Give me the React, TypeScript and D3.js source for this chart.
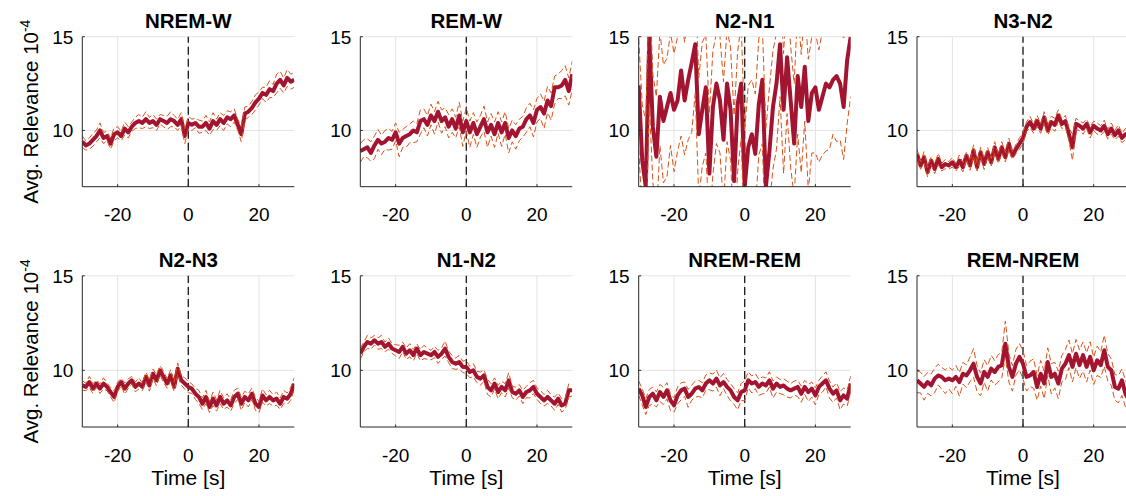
import React from 'react';
import * as d3 from 'd3';

// ---------- data ----------
const titles = ['NREM-W', 'REM-W', 'N2-N1', 'N3-N2', 'N2-N3', 'N1-N2', 'NREM-REM', 'REM-NREM'];
const timeSec = d3.range(-30, 31, 1);
const xTicks = [-20, 0, 20];
const yTicks = [10, 15];
const xDomain = [-30, 30];
const yDomain = [7, 15];

const nremWMean = [
  9.4, 9.2, 9.3, 9.5, 9.7, 10.0, 9.6, 9.7, 9.3, 9.8,
  9.9, 9.7, 10.1, 9.9, 10.2, 10.4, 10.5, 10.4, 10.6, 10.4,
  10.5, 10.3, 10.6, 10.5, 10.4, 10.6, 10.5, 10.3, 10.6, 9.7,
  10.4, 10.3, 10.4, 10.2, 10.2, 10.4, 10.1, 10.5, 10.3, 10.6,
  10.4, 10.7, 10.6, 10.8, 10.3, 9.8, 10.9, 11.0, 11.2, 11.5,
  11.7, 12.0, 11.9, 12.2, 12.1, 12.5, 12.7, 12.4, 12.8, 12.6,
  12.7,
];
const nremWHw = [
  0.3, 0.25, 0.3, 0.35, 0.3, 0.4, 0.3, 0.25, 0.3, 0.35,
  0.3, 0.25, 0.35, 0.3, 0.25, 0.3, 0.35, 0.3, 0.4, 0.3,
  0.35, 0.3, 0.25, 0.3, 0.35, 0.4, 0.3, 0.3, 0.35, 0.4,
  0.35, 0.3, 0.25, 0.35, 0.3, 0.4, 0.35, 0.45, 0.3, 0.35,
  0.4, 0.35, 0.4, 0.35, 0.3, 0.4, 0.35, 0.3, 0.35, 0.4,
  0.35, 0.3, 0.4, 0.45, 0.35, 0.5, 0.45, 0.4, 0.45, 0.4,
  0.4,
];

const remWMean = [
  8.9, 9.0, 9.1, 8.8, 9.2, 9.5, 9.3, 9.4, 9.6, 9.5,
  9.9, 9.3, 9.6, 9.7, 9.8, 10.0, 9.9, 10.5, 10.6, 10.3,
  10.8, 10.5, 11.0, 10.5, 10.7, 10.2, 10.6, 10.1, 10.8, 9.9,
  10.5, 9.9, 10.4, 9.8, 10.2, 10.6, 9.9, 10.3, 9.8, 10.4,
  9.9, 10.4, 9.6, 10.0, 9.7, 10.1, 10.2, 10.6, 10.8, 10.4,
  11.1, 11.25, 10.9, 11.6, 11.3, 12.3, 12.3, 12.4, 12.7, 12.1,
  13.0,
];
const remWHw = [
  0.4, 0.5, 0.45, 0.6, 0.5, 0.55, 0.45, 0.6, 0.5, 0.45,
  0.5, 0.6, 0.45, 0.5, 0.55, 0.5, 0.45, 0.6, 0.55, 0.5,
  0.6, 0.5, 0.55, 0.6, 0.5, 0.65, 0.55, 0.6, 0.7, 0.6,
  0.7, 0.6, 0.55, 0.65, 0.6, 0.7, 0.55, 0.6, 0.65, 0.6,
  0.55, 0.6, 0.5, 0.55, 0.6, 0.5, 0.55, 0.6, 0.65, 0.7,
  0.6, 0.7, 0.65, 0.75, 0.7, 0.6, 0.7, 0.8, 0.75, 0.7,
  0.7,
];
const remWLo = [
  0.6, 0.4, 0.55, 0.45, 0.7, 0.5, 0.6, 0.4, 0.65, 0.5,
  0.45, 0.7, 0.5, 0.6, 0.45, 0.65, 0.5, 0.7, 0.45, 0.6,
  0.5, 0.7, 0.55, 0.65, 0.5, 0.6, 0.7, 0.5, 0.6, 0.75,
  0.55, 0.8, 0.6, 0.7, 0.55, 0.65, 0.8, 0.6, 0.7, 0.55,
  0.75, 0.6, 0.8, 0.6, 0.7, 0.65, 0.55, 0.7, 0.6, 0.75,
  0.65, 0.6, 0.8, 0.65, 0.75, 0.9, 0.6, 0.7, 0.85, 0.75,
  0.8,
];

const n2n1Mean = [
  12.4, 8.4, 7.0, 15.0, 10.2, 8.6, 11.8, 10.5, 11.25, 12.0,
  11.1, 11.6, 13.2, 11.6, 12.7, 13.6, 14.6, 9.8, 11.1, 12.3,
  7.7, 11.25, 12.5, 11.6, 9.5, 12.5, 11.1, 7.3, 11.4, 12.5,
  7.0, 9.1, 9.8, 8.75, 11.4, 12.7, 7.0, 8.9, 11.25, 12.5,
  14.6, 11.1, 13.9, 11.6, 9.3, 12.9, 11.25, 13.4, 10.5, 12.0,
  12.3, 11.1, 11.8, 12.5, 12.3, 12.7, 12.9, 12.5, 11.25, 13.75,
  15.0,
];
const n2n1Hw = [
  2.5, 3.0, 3.5, 3.0, 2.8, 3.2, 3.5, 3.0, 2.6, 3.2,
  3.0, 3.4, 2.8, 3.1, 3.5, 2.9, 3.3, 3.0, 3.6, 2.8,
  3.2, 3.0, 2.7, 3.4, 3.1, 2.9, 3.3, 3.5, 2.8, 3.2,
  3.0, 3.3, 2.9, 3.2, 3.5, 2.8, 3.1, 3.4, 3.0, 2.7,
  3.3, 3.0, 3.4, 2.9, 3.2, 3.6, 2.8, 3.1, 3.3, 3.0,
  2.9, 3.2, 3.5, 3.0, 2.8, 3.3, 3.1, 3.4, 3.6, 3.2,
  3.0,
];
const n2n1Lo = [
  3.4, 2.7, 3.1, 3.6, 2.9, 3.5, 2.6, 3.3, 3.7, 2.8,
  3.3, 2.7, 3.5, 2.9, 3.2, 3.7, 2.6, 3.4, 3.0, 3.5,
  2.7, 3.6, 3.2, 2.8, 3.5, 3.1, 2.7, 3.0, 3.6, 2.9,
  3.4, 2.8, 3.5, 3.0, 2.7, 3.4, 3.6, 2.9, 3.3, 3.5,
  2.8, 3.4, 3.0, 3.6, 2.8, 3.1, 3.5, 2.9, 3.7, 3.2,
  3.5, 2.8, 3.1, 3.6, 3.3, 2.9, 3.5, 3.0, 2.8, 3.4,
  3.2,
];

const n3n2Mean = [
  8.75, 8.13, 8.57, 7.77, 8.39, 7.95, 8.48, 8.04, 8.21, 8.13,
  8.3, 8.04, 8.39, 8.04, 8.66, 8.13, 8.93, 8.04, 8.84, 8.21,
  8.84, 8.3, 9.1, 8.48, 9.1, 8.57, 9.29, 8.66, 9.0, 9.3,
  9.6, 10.2, 10.45, 10.1, 10.5, 10.1, 10.7, 10.0, 10.45, 10.3,
  10.8, 10.35, 10.5, 9.8, 9.1, 10.35, 10.25, 10.1, 10.35, 9.9,
  10.25, 10.1, 10.0, 10.25, 9.8, 10.1, 9.75, 10.0, 9.6, 9.8,
  9.7,
];
const n3n2Hw = [
  0.25, 0.2, 0.3, 0.25, 0.2, 0.25, 0.3, 0.2, 0.25, 0.2,
  0.25, 0.2, 0.3, 0.25, 0.2, 0.25, 0.3, 0.2, 0.25, 0.3,
  0.25, 0.2, 0.3, 0.25, 0.3, 0.25, 0.3, 0.2, 0.25, 0.3,
  0.3, 0.25, 0.3, 0.25, 0.3, 0.25, 0.3, 0.25, 0.3, 0.35,
  0.3, 0.25, 0.3, 0.35, 0.7, 0.3, 0.25, 0.3, 0.25, 0.3,
  0.25, 0.3, 0.25, 0.3, 0.25, 0.3, 0.25, 0.3, 0.25, 0.3,
  0.25,
];

const n2n3Mean = [
  9.2, 9.12, 9.38, 9.03, 9.3, 9.03, 9.3, 9.12, 8.85, 8.59,
  9.12, 9.38, 9.03, 9.3, 9.47, 9.12, 9.3, 9.12, 9.65, 9.2,
  9.82, 9.47, 10.0, 9.65, 9.3, 9.73, 9.12, 10.09, 9.47, 9.3,
  9.12, 9.03, 8.76, 8.59, 8.23, 8.59, 8.06, 8.5, 8.14, 8.59,
  8.23, 8.41, 8.14, 8.59, 8.76, 8.23, 8.59, 8.41, 8.76, 8.23,
  8.06, 8.67, 8.41, 8.59, 8.41, 8.5, 8.23, 8.59, 8.5, 8.76,
  9.3,
];
const n2n3Hw = [
  0.25, 0.2, 0.3, 0.25, 0.2, 0.25, 0.3, 0.2, 0.25, 0.3,
  0.25, 0.2, 0.3, 0.25, 0.2, 0.25, 0.3, 0.2, 0.25, 0.3,
  0.25, 0.3, 0.25, 0.3, 0.25, 0.3, 0.25, 0.3, 0.25, 0.3,
  0.3, 0.25, 0.3, 0.35, 0.3, 0.35, 0.3, 0.35, 0.3, 0.35,
  0.3, 0.35, 0.3, 0.35, 0.3, 0.35, 0.3, 0.35, 0.3, 0.35,
  0.3, 0.35, 0.3, 0.35, 0.3, 0.35, 0.3, 0.35, 0.3, 0.35,
  0.3,
];

const n1n2Mean = [
  10.88, 11.24, 11.5, 11.41, 11.59, 11.41, 11.5, 11.24, 11.41, 11.15,
  11.06, 10.97, 11.24, 10.88, 11.06, 10.8, 11.15, 10.8, 10.97, 10.88,
  10.8, 10.97, 10.71, 10.88, 11.15, 10.71, 10.44, 10.35, 10.44, 10.18,
  10.18, 9.91, 10.0, 9.65, 9.56, 9.73, 9.12, 8.94, 9.3, 8.85,
  9.12, 8.94, 9.47, 8.85, 8.76, 8.94, 8.59, 8.85, 8.94, 9.12,
  8.76, 8.59, 8.41, 8.59, 8.41, 8.23, 8.5, 8.14, 8.23, 8.94,
  8.94,
];
const n1n2Hw = [
  0.3, 0.25, 0.35, 0.3, 0.25, 0.3, 0.35, 0.25, 0.3, 0.25,
  0.3, 0.35, 0.25, 0.3, 0.35, 0.3, 0.25, 0.3, 0.35, 0.3,
  0.25, 0.3, 0.35, 0.3, 0.4, 0.3, 0.35, 0.3, 0.35, 0.3,
  0.35, 0.3, 0.35, 0.3, 0.35, 0.3, 0.4, 0.35, 0.3, 0.35,
  0.3, 0.35, 0.4, 0.3, 0.35, 0.3, 0.35, 0.3, 0.4, 0.35,
  0.3, 0.35, 0.3, 0.35, 0.3, 0.35, 0.3, 0.35, 0.3, 0.35,
  0.3,
];

const nremRemMean = [
  9.03, 8.67, 8.06, 8.59, 8.76, 8.41, 8.85, 8.59, 8.94, 8.41,
  8.14, 8.67, 8.94, 9.03, 8.59, 8.76, 9.03, 9.12, 8.94, 9.3,
  9.47, 9.3, 9.56, 9.2, 9.38, 9.12, 8.94, 8.59, 8.41, 8.85,
  8.94, 9.47, 9.3, 9.38, 9.12, 9.3, 9.2, 9.47, 9.03, 9.3,
  9.12, 9.2, 9.03, 8.94, 9.03, 9.12, 8.76, 9.12, 8.85, 9.03,
  8.67, 9.12, 9.3, 9.47, 9.03, 8.76, 8.94, 8.41, 8.67, 8.5,
  9.3,
];
const nremRemHw = [
  0.4, 0.35, 0.45, 0.4, 0.35, 0.45, 0.4, 0.5, 0.4, 0.35,
  0.4, 0.45, 0.4, 0.35, 0.4, 0.45, 0.4, 0.35, 0.4, 0.45,
  0.4, 0.5, 0.45, 0.4, 0.45, 0.4, 0.35, 0.45, 0.4, 0.45,
  0.5, 0.45, 0.4, 0.45, 0.4, 0.35, 0.4, 0.45, 0.4, 0.35,
  0.4, 0.35, 0.4, 0.35, 0.4, 0.35, 0.4, 0.35, 0.4, 0.35,
  0.4, 0.35, 0.4, 0.45, 0.4, 0.35, 0.4, 0.45, 0.4, 0.45,
  0.4,
];
const nremRemLo = [
  0.35, 0.5, 0.4, 0.45, 0.55, 0.35, 0.5, 0.4, 0.45, 0.55,
  0.35, 0.45, 0.5, 0.4, 0.55, 0.35, 0.45, 0.5, 0.4, 0.35,
  0.5, 0.4, 0.45, 0.55, 0.35, 0.45, 0.55, 0.4, 0.5, 0.45,
  0.55, 0.4, 0.5, 0.35, 0.45, 0.55, 0.4, 0.35, 0.5, 0.45,
  0.35, 0.5, 0.45, 0.4, 0.35, 0.5, 0.45, 0.4, 0.5, 0.45,
  0.5, 0.4, 0.45, 0.35, 0.5, 0.45, 0.4, 0.5, 0.45, 0.4,
  0.45,
];

const remNremMean = [
  9.47, 9.3, 9.12, 9.38, 9.2, 9.56, 9.73, 9.65, 9.47, 9.56,
  9.47, 9.65, 9.38, 9.82, 9.73, 10.0, 10.35, 9.65, 9.3, 9.91,
  9.65, 10.09, 9.91, 10.18, 10.27, 11.41, 10.18, 9.65, 10.35, 10.71,
  10.35, 9.65, 9.73, 9.91, 9.12, 9.82, 9.3, 10.44, 9.65, 9.82,
  9.3, 10.09, 10.35, 10.8, 10.18, 10.88, 10.27, 10.8, 10.18, 10.71,
  10.0, 10.53, 10.27, 11.06, 10.18, 10.0, 9.12, 9.03, 9.47, 8.76,
  8.41,
];
const remNremHw = [
  0.5, 0.6, 0.55, 0.5, 0.6, 0.55, 0.6, 0.5, 0.55, 0.6,
  0.55, 0.6, 0.5, 0.6, 0.55, 0.7, 0.8, 0.6, 0.55, 0.65,
  0.6, 0.7, 0.6, 0.65, 0.7, 1.2, 0.7, 0.6, 0.75, 0.7,
  0.7, 0.6, 0.75, 0.7, 0.6, 0.7, 0.65, 0.75, 0.7, 0.6,
  0.65, 0.7, 0.75, 0.8, 0.7, 0.75, 0.8, 0.7, 0.75, 0.8,
  0.7, 0.75, 0.7, 0.8, 0.7, 0.6, 0.65, 0.7, 0.6, 0.7,
  0.6,
];
const remNremLo = [
  0.65, 0.5, 0.7, 0.6, 0.55, 0.75, 0.5, 0.65, 0.7, 0.55,
  0.7, 0.5, 0.75, 0.55, 0.65, 0.6, 0.7, 0.8, 0.65, 0.55,
  0.75, 0.6, 0.7, 0.8, 0.65, 0.7, 0.8, 0.75, 0.6, 0.7,
  0.8, 0.75, 0.6, 0.85, 0.7, 0.65, 0.8, 0.7, 0.9, 0.75,
  0.8, 0.7, 0.85, 0.65, 0.8, 0.75, 0.7, 0.85, 0.8, 0.7,
  0.75, 0.8, 0.65, 0.85, 0.75, 0.8, 0.7, 0.75, 0.8, 0.7,
  0.75,
];

const means = [nremWMean, remWMean, n2n1Mean, n3n2Mean, n2n3Mean, n1n2Mean, nremRemMean, remNremMean];
const upperWidths = [nremWHw, remWHw, n2n1Hw, n3n2Hw, n2n3Hw, n1n2Hw, nremRemHw, remNremHw];
const lowerWidths = [nremWHw, remWLo, n2n1Lo, n3n2Hw, n2n3Hw, n1n2Hw, nremRemLo, remNremLo];

// ---------- layout ----------
const W = 1126;
const H = 496;
const colLefts = [82.3, 360.3, 638.7, 917];
const panelW = 212;
const rowTops = [36.7, 275.8];
const rowBottoms = [186.7, 427];
const FONT = '"Liberation Sans", Arial, Helvetica, sans-serif';
const MEAN_COLOR = '#A2142F';
const CI_COLOR = '#D95319';
const AXIS_COLOR = '#262626';
const GRID_COLOR = '#e3e3e3';

function Panel({ idx }: { idx: number }) {
  const col = idx % 4;
  const row = Math.floor(idx / 4);
  const left = colLefts[col];
  const right = left + panelW;
  const top = rowTops[row];
  const bottom = rowBottoms[row];
  const x = d3.scaleLinear().domain(xDomain).range([left, right]);
  const y = d3.scaleLinear().domain(yDomain).range([bottom, top]);
  const mean = means[idx];
  const up = upperWidths[idx];
  const lo = lowerWidths[idx];
  const line = d3
    .line<number>()
    .x((_, i) => x(timeSec[i]))
    .y((d) => y(d));
  const upper = mean.map((m, i) => m + up[i]);
  const lower = mean.map((m, i) => m - lo[i]);
  const clipId = `clip-${idx}`;
  return (
    <g>
      <defs>
        <clipPath id={clipId}>
          <rect x={left} y={top} width={right - left} height={bottom - top} />
        </clipPath>
      </defs>
      {xTicks.map((t) => (
        <line key={'gx' + t} x1={x(t)} x2={x(t)} y1={top} y2={bottom} stroke={GRID_COLOR} strokeWidth={1} />
      ))}
      {yTicks.map((t) => (
        <line key={'gy' + t} x1={left} x2={right} y1={y(t)} y2={y(t)} stroke={GRID_COLOR} strokeWidth={1} />
      ))}
      <line
        x1={x(0)}
        x2={x(0)}
        y1={y(yDomain[0])}
        y2={y(yDomain[1])}
        stroke="#1a1a1a"
        strokeWidth={1.3}
        strokeDasharray="8,4"
      />
      <g clipPath={`url(#${clipId})`}>
        <path d={line(mean) || ''} fill="none" stroke={MEAN_COLOR} strokeWidth={4} strokeLinejoin="round" />
        <path d={line(upper) || ''} fill="none" stroke={CI_COLOR} strokeWidth={1} strokeDasharray="6,3" />
        <path d={line(lower) || ''} fill="none" stroke={CI_COLOR} strokeWidth={1} strokeDasharray="6,3" />
      </g>
      <line x1={left} x2={left} y1={top} y2={bottom} stroke={AXIS_COLOR} strokeWidth={1} />
      <line x1={left} x2={right} y1={bottom} y2={bottom} stroke={AXIS_COLOR} strokeWidth={1} />
      {xTicks.map((t) => (
        <g key={'xt' + t}>
          <line x1={x(t)} x2={x(t)} y1={bottom} y2={bottom - 2.5} stroke={AXIS_COLOR} strokeWidth={1} />
          <text x={x(t)} y={bottom + 34.5} textAnchor="middle" fontSize={19} fill="#000" fontFamily={FONT}>
            {t < 0 ? '-' + Math.abs(t) : String(t)}
          </text>
        </g>
      ))}
      {yTicks.map((t) => (
        <g key={'yt' + t}>
          <line x1={left} x2={left + 2.5} y1={y(t)} y2={y(t)} stroke={AXIS_COLOR} strokeWidth={1} />
          <text x={left - 9} y={y(t) + 6.8} textAnchor="end" fontSize={19} fill="#000" fontFamily={FONT}>
            {String(t)}
          </text>
        </g>
      ))}
      <text
        x={(left + right) / 2}
        y={top - 8.7}
        textAnchor="middle"
        fontSize={20.5}
        fontWeight="bold"
        fill="#000"
        fontFamily={FONT}
      >
        {titles[idx]}
      </text>
      {col === 0 && (
        <text
          transform={`translate(38,${(top + bottom) / 2}) rotate(-90)`}
          textAnchor="middle"
          fontSize={20.5}
          fill="#000"
          fontFamily={FONT}
        >
          Avg. Relevance 10
          <tspan dy={-8} fontSize={14}>
            -4
          </tspan>
        </text>
      )}
      {row === 1 && (
        <text x={(left + right) / 2} y={485} textAnchor="middle" fontSize={21} fill="#000" fontFamily={FONT}>
          Time [s]
        </text>
      )}
    </g>
  );
}

export default function App() {
  return (
    <svg
      width={W}
      height={H}
      viewBox={`0 0 ${W} ${H}`}
      style={{ position: 'absolute', left: 0, top: 0, background: '#fff', overflow: 'hidden' }}
    >
      <rect x={0} y={0} width={W} height={H} fill="#fff" />
      {titles.map((_, i) => (
        <Panel key={i} idx={i} />
      ))}
    </svg>
  );
}
